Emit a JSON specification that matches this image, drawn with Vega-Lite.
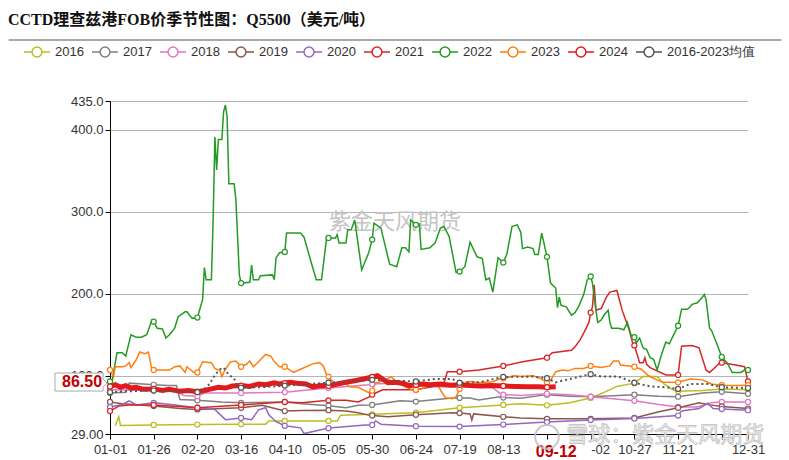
{
"$schema":"https://vega.github.io/schema/vega-lite/v6.json",
"width":638,"height":333,
"autosize":{"type":"none"},
"padding":{"left":110,"top":101,"right":41,"bottom":26},
"background":"white",
"title":{"text":"CCTD理查兹港FOB价季节性图：Q5500（美元/吨）","anchor":"start","frame":"group","font":"Liberation Serif, Noto Sans CJK SC","fontSize":16,"fontWeight":"bold","color":"#111111","dx":-102,"offset":10},
"config":{"view":{"stroke":null},"font":"Liberation Sans","axis":{"labelFont":"Liberation Sans","labelFontSize":13,"labelColor":"#333333"}},
"data":{"values":[
{"year":"2016","date":"2024-01-04","value":39},{"year":"2016","date":"2024-01-06","value":50},{"year":"2016","date":"2024-01-07","value":39.5},{"year":"2016","date":"2024-01-26","value":40},{"year":"2016","date":"2024-02-20","value":40.5},{"year":"2016","date":"2024-03-16","value":41},{"year":"2016","date":"2024-03-30","value":41},{"year":"2016","date":"2024-04-01","value":45},{"year":"2016","date":"2024-04-10","value":45},{"year":"2016","date":"2024-05-05","value":45},{"year":"2016","date":"2024-05-10","value":45},{"year":"2016","date":"2024-05-12","value":52},{"year":"2016","date":"2024-05-30","value":53},{"year":"2016","date":"2024-06-24","value":55},{"year":"2016","date":"2024-07-19","value":61},{"year":"2016","date":"2024-08-13","value":64.5},{"year":"2016","date":"2024-08-23","value":66},{"year":"2016","date":"2024-09-07","value":64},{"year":"2016","date":"2024-09-20","value":67},{"year":"2016","date":"2024-10-02","value":73},{"year":"2016","date":"2024-10-10","value":80},{"year":"2016","date":"2024-10-17","value":87},{"year":"2016","date":"2024-10-27","value":91},{"year":"2016","date":"2024-11-01","value":99},{"year":"2016","date":"2024-11-09","value":99},{"year":"2016","date":"2024-11-13","value":90},{"year":"2016","date":"2024-11-18","value":83},{"year":"2016","date":"2024-11-21","value":81},{"year":"2016","date":"2024-12-05","value":82},{"year":"2016","date":"2024-12-16","value":84},{"year":"2016","date":"2024-12-31","value":83},
{"year":"2017","date":"2024-01-01","value":79},{"year":"2017","date":"2024-01-10","value":80},{"year":"2017","date":"2024-01-12","value":91},{"year":"2017","date":"2024-01-20","value":90},{"year":"2017","date":"2024-01-26","value":89},{"year":"2017","date":"2024-02-03","value":88},{"year":"2017","date":"2024-02-08","value":88},{"year":"2017","date":"2024-02-10","value":71},{"year":"2017","date":"2024-02-20","value":70},{"year":"2017","date":"2024-03-05","value":68},{"year":"2017","date":"2024-03-16","value":67},{"year":"2017","date":"2024-04-10","value":68},{"year":"2017","date":"2024-04-20","value":66},{"year":"2017","date":"2024-05-05","value":63.5},{"year":"2017","date":"2024-05-15","value":61},{"year":"2017","date":"2024-05-22","value":64},{"year":"2017","date":"2024-05-30","value":64.5},{"year":"2017","date":"2024-06-15","value":69.5},{"year":"2017","date":"2024-06-24","value":68.5},{"year":"2017","date":"2024-07-03","value":70.5},{"year":"2017","date":"2024-07-15","value":73},{"year":"2017","date":"2024-07-19","value":73},{"year":"2017","date":"2024-07-25","value":73},{"year":"2017","date":"2024-07-30","value":70.5},{"year":"2017","date":"2024-08-11","value":74.5},{"year":"2017","date":"2024-08-13","value":73.5},{"year":"2017","date":"2024-08-23","value":72.5},{"year":"2017","date":"2024-09-07","value":77},{"year":"2017","date":"2024-09-20","value":75},{"year":"2017","date":"2024-10-02","value":74.5},{"year":"2017","date":"2024-10-27","value":77},{"year":"2017","date":"2024-11-10","value":75},{"year":"2017","date":"2024-11-21","value":74.5},{"year":"2017","date":"2024-12-05","value":79},{"year":"2017","date":"2024-12-16","value":80.5},{"year":"2017","date":"2024-12-31","value":78},
{"year":"2018","date":"2024-01-01","value":83},{"year":"2018","date":"2024-01-26","value":82},{"year":"2018","date":"2024-02-08","value":82},{"year":"2018","date":"2024-02-12","value":76},{"year":"2018","date":"2024-02-20","value":75},{"year":"2018","date":"2024-02-24","value":79},{"year":"2018","date":"2024-03-16","value":79},{"year":"2018","date":"2024-04-10","value":80},{"year":"2018","date":"2024-05-05","value":85},{"year":"2018","date":"2024-05-28","value":89},{"year":"2018","date":"2024-05-30","value":90},{"year":"2018","date":"2024-06-10","value":91},{"year":"2018","date":"2024-06-24","value":89},{"year":"2018","date":"2024-07-03","value":86.5},{"year":"2018","date":"2024-07-19","value":87},{"year":"2018","date":"2024-08-07","value":85.5},{"year":"2018","date":"2024-08-12","value":77},{"year":"2018","date":"2024-08-13","value":77},{"year":"2018","date":"2024-08-23","value":76},{"year":"2018","date":"2024-09-07","value":78},{"year":"2018","date":"2024-09-20","value":77},{"year":"2018","date":"2024-10-02","value":74.5},{"year":"2018","date":"2024-10-27","value":69.5},{"year":"2018","date":"2024-11-10","value":65},{"year":"2018","date":"2024-11-21","value":62},{"year":"2018","date":"2024-12-02","value":62},{"year":"2018","date":"2024-12-10","value":67},{"year":"2018","date":"2024-12-16","value":68},{"year":"2018","date":"2024-12-31","value":68},
{"year":"2019","date":"2024-01-01","value":68},{"year":"2019","date":"2024-01-08","value":66},{"year":"2019","date":"2024-01-18","value":64.5},{"year":"2019","date":"2024-01-26","value":63},{"year":"2019","date":"2024-02-10","value":60},{"year":"2019","date":"2024-02-20","value":59},{"year":"2019","date":"2024-03-05","value":60},{"year":"2019","date":"2024-03-16","value":61},{"year":"2019","date":"2024-03-28","value":64},{"year":"2019","date":"2024-04-01","value":62},{"year":"2019","date":"2024-04-10","value":57},{"year":"2019","date":"2024-04-20","value":57.5},{"year":"2019","date":"2024-05-05","value":58},{"year":"2019","date":"2024-05-15","value":57},{"year":"2019","date":"2024-05-22","value":55},{"year":"2019","date":"2024-05-28","value":52},{"year":"2019","date":"2024-05-30","value":51.5},{"year":"2019","date":"2024-06-08","value":50},{"year":"2019","date":"2024-06-24","value":52.5},{"year":"2019","date":"2024-07-15","value":55},{"year":"2019","date":"2024-07-19","value":54.5},{"year":"2019","date":"2024-07-25","value":53.5},{"year":"2019","date":"2024-07-26","value":46},{"year":"2019","date":"2024-07-27","value":53.5},{"year":"2019","date":"2024-08-13","value":50},{"year":"2019","date":"2024-08-23","value":48.5},{"year":"2019","date":"2024-09-07","value":47.5},{"year":"2019","date":"2024-10-02","value":47.5},{"year":"2019","date":"2024-10-27","value":48.5},{"year":"2019","date":"2024-11-10","value":56},{"year":"2019","date":"2024-11-21","value":61},{"year":"2019","date":"2024-12-03","value":67},{"year":"2019","date":"2024-12-09","value":64.5},{"year":"2019","date":"2024-12-16","value":62.5},{"year":"2019","date":"2024-12-31","value":60},
{"year":"2020","date":"2024-01-01","value":62},{"year":"2020","date":"2024-01-08","value":65},{"year":"2020","date":"2024-01-12","value":69.5},{"year":"2020","date":"2024-01-16","value":64.5},{"year":"2020","date":"2024-01-26","value":67},{"year":"2020","date":"2024-02-05","value":65},{"year":"2020","date":"2024-02-20","value":61},{"year":"2020","date":"2024-03-01","value":59},{"year":"2020","date":"2024-03-07","value":46.5},{"year":"2020","date":"2024-03-16","value":48.5},{"year":"2020","date":"2024-03-22","value":46.5},{"year":"2020","date":"2024-03-26","value":58.5},{"year":"2020","date":"2024-03-30","value":61},{"year":"2020","date":"2024-04-01","value":52},{"year":"2020","date":"2024-04-05","value":44},{"year":"2020","date":"2024-04-10","value":39},{"year":"2020","date":"2024-04-19","value":36.5},{"year":"2020","date":"2024-04-21","value":29.5},{"year":"2020","date":"2024-04-30","value":34},{"year":"2020","date":"2024-05-05","value":36},{"year":"2020","date":"2024-05-07","value":36.5},{"year":"2020","date":"2024-05-26","value":40},{"year":"2020","date":"2024-05-30","value":40},{"year":"2020","date":"2024-06-01","value":45},{"year":"2020","date":"2024-06-04","value":41},{"year":"2020","date":"2024-06-24","value":38.5},{"year":"2020","date":"2024-07-19","value":38},{"year":"2020","date":"2024-08-13","value":40.5},{"year":"2020","date":"2024-09-07","value":43.5},{"year":"2020","date":"2024-10-02","value":46},{"year":"2020","date":"2024-10-27","value":48},{"year":"2020","date":"2024-11-21","value":51.5},{"year":"2020","date":"2024-11-23","value":57},{"year":"2020","date":"2024-12-03","value":60},{"year":"2020","date":"2024-12-08","value":66.5},{"year":"2020","date":"2024-12-11","value":60},{"year":"2020","date":"2024-12-16","value":59.5},{"year":"2020","date":"2024-12-31","value":58},
{"year":"2021","date":"2024-01-01","value":57},{"year":"2021","date":"2024-01-06","value":63},{"year":"2021","date":"2024-01-12","value":64.5},{"year":"2021","date":"2024-01-26","value":64.5},{"year":"2021","date":"2024-02-20","value":61},{"year":"2021","date":"2024-03-16","value":64.5},{"year":"2021","date":"2024-04-10","value":68},{"year":"2021","date":"2024-04-20","value":67},{"year":"2021","date":"2024-05-05","value":70},{"year":"2021","date":"2024-05-15","value":70},{"year":"2021","date":"2024-05-22","value":68},{"year":"2021","date":"2024-05-28","value":74},{"year":"2021","date":"2024-05-30","value":77},{"year":"2021","date":"2024-06-01","value":79},{"year":"2021","date":"2024-06-05","value":83},{"year":"2021","date":"2024-06-24","value":83},{"year":"2021","date":"2024-07-03","value":86.6},{"year":"2021","date":"2024-07-10","value":91},{"year":"2021","date":"2024-07-12","value":105},{"year":"2021","date":"2024-07-19","value":105},{"year":"2021","date":"2024-07-30","value":107},{"year":"2021","date":"2024-08-13","value":112},{"year":"2021","date":"2024-08-24","value":117},{"year":"2021","date":"2024-09-07","value":122},{"year":"2021","date":"2024-09-10","value":128},{"year":"2021","date":"2024-09-21","value":131},{"year":"2021","date":"2024-09-23","value":135},{"year":"2021","date":"2024-09-26","value":144},{"year":"2021","date":"2024-09-28","value":152},{"year":"2021","date":"2024-10-01","value":165},{"year":"2021","date":"2024-10-02","value":177},{"year":"2021","date":"2024-10-03","value":184},{"year":"2021","date":"2024-10-04","value":211},{"year":"2021","date":"2024-10-05","value":180},{"year":"2021","date":"2024-10-08","value":182},{"year":"2021","date":"2024-10-11","value":196},{"year":"2021","date":"2024-10-13","value":202},{"year":"2021","date":"2024-10-17","value":204},{"year":"2021","date":"2024-10-18","value":196},{"year":"2021","date":"2024-10-20","value":180},{"year":"2021","date":"2024-10-24","value":156},{"year":"2021","date":"2024-10-26","value":140},{"year":"2021","date":"2024-10-27","value":137},{"year":"2021","date":"2024-10-30","value":116},{"year":"2021","date":"2024-11-01","value":116},{"year":"2021","date":"2024-11-02","value":122},{"year":"2021","date":"2024-11-03","value":114},{"year":"2021","date":"2024-11-05","value":110},{"year":"2021","date":"2024-11-14","value":101},{"year":"2021","date":"2024-11-21","value":101},{"year":"2021","date":"2024-11-23","value":136},{"year":"2021","date":"2024-11-29","value":137},{"year":"2021","date":"2024-12-03","value":134},{"year":"2021","date":"2024-12-07","value":107},{"year":"2021","date":"2024-12-09","value":104},{"year":"2021","date":"2024-12-15","value":116},{"year":"2021","date":"2024-12-16","value":116},{"year":"2021","date":"2024-12-24","value":113},{"year":"2021","date":"2024-12-29","value":111},{"year":"2021","date":"2024-12-31","value":93},
{"year":"2022","date":"2024-01-01","value":93},{"year":"2022","date":"2024-01-02","value":90},{"year":"2022","date":"2024-01-04","value":116},{"year":"2022","date":"2024-01-05","value":128},{"year":"2022","date":"2024-01-08","value":128},{"year":"2022","date":"2024-01-10","value":124},{"year":"2022","date":"2024-01-13","value":150},{"year":"2022","date":"2024-01-16","value":147},{"year":"2022","date":"2024-01-19","value":147},{"year":"2022","date":"2024-01-22","value":150},{"year":"2022","date":"2024-01-25","value":168},{"year":"2022","date":"2024-01-26","value":166},{"year":"2022","date":"2024-01-28","value":158},{"year":"2022","date":"2024-01-31","value":157},{"year":"2022","date":"2024-02-02","value":146},{"year":"2022","date":"2024-02-04","value":150},{"year":"2022","date":"2024-02-07","value":158},{"year":"2022","date":"2024-02-09","value":172},{"year":"2022","date":"2024-02-13","value":178},{"year":"2022","date":"2024-02-14","value":178},{"year":"2022","date":"2024-02-17","value":170},{"year":"2022","date":"2024-02-20","value":171},{"year":"2022","date":"2024-02-23","value":193},{"year":"2022","date":"2024-02-24","value":232},{"year":"2022","date":"2024-02-25","value":217},{"year":"2022","date":"2024-02-28","value":217},{"year":"2022","date":"2024-02-29","value":290},{"year":"2022","date":"2024-03-01","value":391},{"year":"2022","date":"2024-03-02","value":351},{"year":"2022","date":"2024-03-03","value":388},{"year":"2022","date":"2024-03-05","value":388},{"year":"2022","date":"2024-03-06","value":422},{"year":"2022","date":"2024-03-07","value":430},{"year":"2022","date":"2024-03-08","value":416},{"year":"2022","date":"2024-03-09","value":334},{"year":"2022","date":"2024-03-12","value":334},{"year":"2022","date":"2024-03-13","value":315},{"year":"2022","date":"2024-03-15","value":223},{"year":"2022","date":"2024-03-16","value":213},{"year":"2022","date":"2024-03-21","value":214},{"year":"2022","date":"2024-03-22","value":235},{"year":"2022","date":"2024-03-23","value":217},{"year":"2022","date":"2024-03-26","value":217},{"year":"2022","date":"2024-03-27","value":222},{"year":"2022","date":"2024-04-03","value":223},{"year":"2022","date":"2024-04-04","value":217},{"year":"2022","date":"2024-04-05","value":244},{"year":"2022","date":"2024-04-07","value":250},{"year":"2022","date":"2024-04-10","value":251},{"year":"2022","date":"2024-04-11","value":274},{"year":"2022","date":"2024-04-19","value":274},{"year":"2022","date":"2024-04-21","value":269},{"year":"2022","date":"2024-04-25","value":239},{"year":"2022","date":"2024-04-28","value":217},{"year":"2022","date":"2024-05-01","value":217},{"year":"2022","date":"2024-05-04","value":269},{"year":"2022","date":"2024-05-05","value":268},{"year":"2022","date":"2024-05-09","value":268},{"year":"2022","date":"2024-05-10","value":272},{"year":"2022","date":"2024-05-11","value":262},{"year":"2022","date":"2024-05-15","value":262},{"year":"2022","date":"2024-05-16","value":278},{"year":"2022","date":"2024-05-18","value":278},{"year":"2022","date":"2024-05-20","value":290},{"year":"2022","date":"2024-05-24","value":229},{"year":"2022","date":"2024-05-28","value":250},{"year":"2022","date":"2024-05-30","value":266},{"year":"2022","date":"2024-05-31","value":286},{"year":"2022","date":"2024-06-04","value":280},{"year":"2022","date":"2024-06-09","value":236},{"year":"2022","date":"2024-06-13","value":233},{"year":"2022","date":"2024-06-16","value":256},{"year":"2022","date":"2024-06-18","value":256},{"year":"2022","date":"2024-06-20","value":251},{"year":"2022","date":"2024-06-21","value":290},{"year":"2022","date":"2024-06-24","value":284},{"year":"2022","date":"2024-06-26","value":285},{"year":"2022","date":"2024-06-27","value":254},{"year":"2022","date":"2024-07-02","value":256},{"year":"2022","date":"2024-07-05","value":262},{"year":"2022","date":"2024-07-08","value":280},{"year":"2022","date":"2024-07-10","value":282},{"year":"2022","date":"2024-07-13","value":270},{"year":"2022","date":"2024-07-17","value":226},{"year":"2022","date":"2024-07-19","value":227},{"year":"2022","date":"2024-07-22","value":233},{"year":"2022","date":"2024-07-25","value":263},{"year":"2022","date":"2024-07-29","value":245},{"year":"2022","date":"2024-08-01","value":243},{"year":"2022","date":"2024-08-03","value":217},{"year":"2022","date":"2024-08-05","value":219},{"year":"2022","date":"2024-08-07","value":202},{"year":"2022","date":"2024-08-10","value":244},{"year":"2022","date":"2024-08-13","value":238},{"year":"2022","date":"2024-08-15","value":248},{"year":"2022","date":"2024-08-18","value":282},{"year":"2022","date":"2024-08-21","value":284},{"year":"2022","date":"2024-08-23","value":275},{"year":"2022","date":"2024-08-24","value":255},{"year":"2022","date":"2024-08-27","value":257},{"year":"2022","date":"2024-08-30","value":255},{"year":"2022","date":"2024-08-31","value":248},{"year":"2022","date":"2024-09-02","value":248},{"year":"2022","date":"2024-09-04","value":274},{"year":"2022","date":"2024-09-07","value":245},{"year":"2022","date":"2024-09-08","value":229},{"year":"2022","date":"2024-09-09","value":213},{"year":"2022","date":"2024-09-12","value":207},{"year":"2022","date":"2024-09-13","value":183},{"year":"2022","date":"2024-09-14","value":196},{"year":"2022","date":"2024-09-15","value":186},{"year":"2022","date":"2024-09-18","value":184},{"year":"2022","date":"2024-09-21","value":174},{"year":"2022","date":"2024-09-23","value":177},{"year":"2022","date":"2024-09-25","value":184},{"year":"2022","date":"2024-09-28","value":199},{"year":"2022","date":"2024-09-30","value":217},{"year":"2022","date":"2024-10-02","value":221},{"year":"2022","date":"2024-10-03","value":213},{"year":"2022","date":"2024-10-05","value":180},{"year":"2022","date":"2024-10-06","value":165},{"year":"2022","date":"2024-10-08","value":168},{"year":"2022","date":"2024-10-10","value":175},{"year":"2022","date":"2024-10-12","value":180},{"year":"2022","date":"2024-10-13","value":165},{"year":"2022","date":"2024-10-14","value":158},{"year":"2022","date":"2024-10-18","value":158},{"year":"2022","date":"2024-10-21","value":156},{"year":"2022","date":"2024-10-23","value":165},{"year":"2022","date":"2024-10-25","value":150},{"year":"2022","date":"2024-10-27","value":147},{"year":"2022","date":"2024-10-28","value":140},{"year":"2022","date":"2024-10-30","value":146},{"year":"2022","date":"2024-11-01","value":134},{"year":"2022","date":"2024-11-03","value":132},{"year":"2022","date":"2024-11-05","value":122},{"year":"2022","date":"2024-11-07","value":120},{"year":"2022","date":"2024-11-09","value":107},{"year":"2022","date":"2024-11-11","value":122},{"year":"2022","date":"2024-11-12","value":129},{"year":"2022","date":"2024-11-14","value":141},{"year":"2022","date":"2024-11-16","value":139},{"year":"2022","date":"2024-11-18","value":148},{"year":"2022","date":"2024-11-21","value":161},{"year":"2022","date":"2024-11-23","value":181},{"year":"2022","date":"2024-11-26","value":181},{"year":"2022","date":"2024-11-27","value":182},{"year":"2022","date":"2024-11-29","value":187},{"year":"2022","date":"2024-12-02","value":189},{"year":"2022","date":"2024-12-05","value":196},{"year":"2022","date":"2024-12-06","value":199},{"year":"2022","date":"2024-12-07","value":193},{"year":"2022","date":"2024-12-09","value":158},{"year":"2022","date":"2024-12-10","value":156},{"year":"2022","date":"2024-12-13","value":140},{"year":"2022","date":"2024-12-16","value":123},{"year":"2022","date":"2024-12-19","value":116},{"year":"2022","date":"2024-12-22","value":104},{"year":"2022","date":"2024-12-27","value":104},{"year":"2022","date":"2024-12-29","value":107},{"year":"2022","date":"2024-12-31","value":107},
{"year":"2023","date":"2024-01-01","value":107},{"year":"2023","date":"2024-01-03","value":99},{"year":"2023","date":"2024-01-04","value":111},{"year":"2023","date":"2024-01-08","value":111},{"year":"2023","date":"2024-01-10","value":112},{"year":"2023","date":"2024-01-12","value":116},{"year":"2023","date":"2024-01-13","value":110},{"year":"2023","date":"2024-01-16","value":119.5},{"year":"2023","date":"2024-01-18","value":129},{"year":"2023","date":"2024-01-21","value":127},{"year":"2023","date":"2024-01-23","value":129},{"year":"2023","date":"2024-01-25","value":107},{"year":"2023","date":"2024-01-26","value":107},{"year":"2023","date":"2024-01-31","value":107},{"year":"2023","date":"2024-02-04","value":107},{"year":"2023","date":"2024-02-07","value":111},{"year":"2023","date":"2024-02-10","value":112},{"year":"2023","date":"2024-02-13","value":104},{"year":"2023","date":"2024-02-14","value":111},{"year":"2023","date":"2024-02-18","value":104},{"year":"2023","date":"2024-02-20","value":104},{"year":"2023","date":"2024-02-23","value":117},{"year":"2023","date":"2024-02-28","value":116},{"year":"2023","date":"2024-03-01","value":109},{"year":"2023","date":"2024-03-04","value":106},{"year":"2023","date":"2024-03-05","value":99},{"year":"2023","date":"2024-03-07","value":108},{"year":"2023","date":"2024-03-10","value":117},{"year":"2023","date":"2024-03-13","value":118},{"year":"2023","date":"2024-03-16","value":111},{"year":"2023","date":"2024-03-19","value":114},{"year":"2023","date":"2024-03-21","value":118},{"year":"2023","date":"2024-03-23","value":111},{"year":"2023","date":"2024-03-25","value":115},{"year":"2023","date":"2024-03-30","value":126},{"year":"2023","date":"2024-04-02","value":124},{"year":"2023","date":"2024-04-04","value":117},{"year":"2023","date":"2024-04-07","value":111},{"year":"2023","date":"2024-04-10","value":111},{"year":"2023","date":"2024-04-15","value":104},{"year":"2023","date":"2024-04-19","value":108},{"year":"2023","date":"2024-04-26","value":114.5},{"year":"2023","date":"2024-04-30","value":116},{"year":"2023","date":"2024-05-02","value":112},{"year":"2023","date":"2024-05-04","value":101},{"year":"2023","date":"2024-05-05","value":99},{"year":"2023","date":"2024-05-08","value":91.5},{"year":"2023","date":"2024-05-14","value":91.5},{"year":"2023","date":"2024-05-17","value":86.5},{"year":"2023","date":"2024-05-22","value":86},{"year":"2023","date":"2024-05-28","value":79.5},{"year":"2023","date":"2024-05-30","value":82},{"year":"2023","date":"2024-06-01","value":91.5},{"year":"2023","date":"2024-06-03","value":92},{"year":"2023","date":"2024-06-10","value":98.8},{"year":"2023","date":"2024-06-13","value":91.5},{"year":"2023","date":"2024-06-18","value":86.5},{"year":"2023","date":"2024-06-22","value":83},{"year":"2023","date":"2024-06-24","value":83},{"year":"2023","date":"2024-06-27","value":84},{"year":"2023","date":"2024-07-03","value":89},{"year":"2023","date":"2024-07-07","value":86.6},{"year":"2023","date":"2024-07-09","value":79.3},{"year":"2023","date":"2024-07-11","value":73.2},{"year":"2023","date":"2024-07-15","value":72},{"year":"2023","date":"2024-07-17","value":74.4},{"year":"2023","date":"2024-07-19","value":84},{"year":"2023","date":"2024-07-23","value":92.7},{"year":"2023","date":"2024-07-26","value":93},{"year":"2023","date":"2024-07-30","value":91.5},{"year":"2023","date":"2024-08-07","value":92.7},{"year":"2023","date":"2024-08-11","value":96.3},{"year":"2023","date":"2024-08-13","value":97},{"year":"2023","date":"2024-08-15","value":97.6},{"year":"2023","date":"2024-08-19","value":100},{"year":"2023","date":"2024-08-23","value":99},{"year":"2023","date":"2024-08-30","value":100},{"year":"2023","date":"2024-09-03","value":97},{"year":"2023","date":"2024-09-07","value":91.5},{"year":"2023","date":"2024-09-09","value":94},{"year":"2023","date":"2024-09-12","value":105},{"year":"2023","date":"2024-09-16","value":107},{"year":"2023","date":"2024-09-19","value":106},{"year":"2023","date":"2024-09-23","value":109},{"year":"2023","date":"2024-09-28","value":109},{"year":"2023","date":"2024-10-02","value":112},{"year":"2023","date":"2024-10-08","value":110},{"year":"2023","date":"2024-10-13","value":112},{"year":"2023","date":"2024-10-15","value":118},{"year":"2023","date":"2024-10-18","value":118},{"year":"2023","date":"2024-10-19","value":113},{"year":"2023","date":"2024-10-24","value":112},{"year":"2023","date":"2024-10-27","value":111},{"year":"2023","date":"2024-10-31","value":108},{"year":"2023","date":"2024-11-04","value":100},{"year":"2023","date":"2024-11-09","value":95},{"year":"2023","date":"2024-11-12","value":92},{"year":"2023","date":"2024-11-21","value":92},{"year":"2023","date":"2024-11-28","value":96},{"year":"2023","date":"2024-12-05","value":95},{"year":"2023","date":"2024-12-10","value":90},{"year":"2023","date":"2024-12-16","value":88.5},{"year":"2023","date":"2024-12-25","value":88},{"year":"2023","date":"2024-12-31","value":88.5},
{"year":"2024","date":"2024-01-01","value":87},{"year":"2024","date":"2024-01-04","value":89},{"year":"2024","date":"2024-01-07","value":86},{"year":"2024","date":"2024-01-10","value":88},{"year":"2024","date":"2024-01-13","value":85},{"year":"2024","date":"2024-01-16","value":86},{"year":"2024","date":"2024-01-20","value":83.5},{"year":"2024","date":"2024-01-26","value":84},{"year":"2024","date":"2024-01-31","value":82},{"year":"2024","date":"2024-02-04","value":83.5},{"year":"2024","date":"2024-02-10","value":81},{"year":"2024","date":"2024-02-15","value":82},{"year":"2024","date":"2024-02-20","value":80.5},{"year":"2024","date":"2024-02-24","value":82},{"year":"2024","date":"2024-02-28","value":84},{"year":"2024","date":"2024-03-03","value":86},{"year":"2024","date":"2024-03-07","value":85},{"year":"2024","date":"2024-03-11","value":87.5},{"year":"2024","date":"2024-03-16","value":88},{"year":"2024","date":"2024-03-21","value":87},{"year":"2024","date":"2024-03-26","value":90},{"year":"2024","date":"2024-03-30","value":89},{"year":"2024","date":"2024-04-04","value":91.5},{"year":"2024","date":"2024-04-07","value":90},{"year":"2024","date":"2024-04-10","value":91},{"year":"2024","date":"2024-04-13","value":92},{"year":"2024","date":"2024-04-17","value":91},{"year":"2024","date":"2024-04-22","value":90},{"year":"2024","date":"2024-04-26","value":86.5},{"year":"2024","date":"2024-05-01","value":88},{"year":"2024","date":"2024-05-05","value":87.5},{"year":"2024","date":"2024-05-10","value":90},{"year":"2024","date":"2024-05-15","value":92},{"year":"2024","date":"2024-05-20","value":94},{"year":"2024","date":"2024-05-25","value":96},{"year":"2024","date":"2024-05-30","value":98.5},{"year":"2024","date":"2024-06-02","value":100},{"year":"2024","date":"2024-06-05","value":96},{"year":"2024","date":"2024-06-08","value":91.5},{"year":"2024","date":"2024-06-12","value":92},{"year":"2024","date":"2024-06-17","value":90.5},{"year":"2024","date":"2024-06-20","value":88},{"year":"2024","date":"2024-06-24","value":89},{"year":"2024","date":"2024-06-28","value":90},{"year":"2024","date":"2024-07-02","value":89},{"year":"2024","date":"2024-07-08","value":90},{"year":"2024","date":"2024-07-14","value":88.5},{"year":"2024","date":"2024-07-19","value":89},{"year":"2024","date":"2024-07-25","value":88},{"year":"2024","date":"2024-07-31","value":87.5},{"year":"2024","date":"2024-08-06","value":88},{"year":"2024","date":"2024-08-13","value":87.5},{"year":"2024","date":"2024-08-20","value":87},{"year":"2024","date":"2024-08-27","value":86.5},{"year":"2024","date":"2024-09-02","value":86.5},{"year":"2024","date":"2024-09-07","value":86},{"year":"2024","date":"2024-09-12","value":86.5},
{"year":"2016-2023均值","date":"2024-01-01","value":80},{"year":"2016-2023均值","date":"2024-01-10","value":81},{"year":"2016-2023均值","date":"2024-01-26","value":82},{"year":"2016-2023均值","date":"2024-02-10","value":81},{"year":"2016-2023均值","date":"2024-02-20","value":80},{"year":"2016-2023均值","date":"2024-02-24","value":84},{"year":"2016-2023均值","date":"2024-02-27","value":90},{"year":"2016-2023均值","date":"2024-03-01","value":101},{"year":"2016-2023均值","date":"2024-03-04","value":108},{"year":"2016-2023均值","date":"2024-03-06","value":110},{"year":"2016-2023均值","date":"2024-03-09","value":101},{"year":"2016-2023均值","date":"2024-03-12","value":97},{"year":"2016-2023均值","date":"2024-03-14","value":86},{"year":"2016-2023均值","date":"2024-03-16","value":85.5},{"year":"2016-2023均值","date":"2024-03-27","value":86},{"year":"2016-2023均值","date":"2024-04-10","value":88},{"year":"2016-2023均值","date":"2024-05-05","value":91.5},{"year":"2016-2023均值","date":"2024-05-30","value":95},{"year":"2016-2023均值","date":"2024-06-24","value":93},{"year":"2016-2023均值","date":"2024-07-05","value":96},{"year":"2016-2023均值","date":"2024-07-15","value":96},{"year":"2016-2023均值","date":"2024-07-19","value":91.5},{"year":"2016-2023均值","date":"2024-07-30","value":92},{"year":"2016-2023均值","date":"2024-08-13","value":98.5},{"year":"2016-2023均值","date":"2024-08-30","value":99},{"year":"2016-2023均值","date":"2024-09-07","value":97},{"year":"2016-2023均值","date":"2024-09-12","value":92},{"year":"2016-2023均值","date":"2024-09-22","value":97},{"year":"2016-2023均值","date":"2024-10-02","value":102},{"year":"2016-2023均值","date":"2024-10-08","value":99},{"year":"2016-2023均值","date":"2024-10-18","value":99},{"year":"2016-2023均值","date":"2024-10-27","value":91.5},{"year":"2016-2023均值","date":"2024-11-05","value":87},{"year":"2016-2023均值","date":"2024-11-14","value":86},{"year":"2016-2023均值","date":"2024-11-21","value":84},{"year":"2016-2023均值","date":"2024-11-28","value":90},{"year":"2016-2023均值","date":"2024-12-08","value":90},{"year":"2016-2023均值","date":"2024-12-16","value":86},{"year":"2016-2023均值","date":"2024-12-31","value":85}
]},
"encoding":{
"x":{"field":"date","type":"temporal","scale":{"type":"utc","domain":[{"year":2024,"month":1,"date":1,"utc":true},{"year":2024,"month":12,"date":31,"utc":true}]},
"axis":{"title":null,"grid":false,"domainColor":"#000000","tickColor":{"condition":{"test":"utcFormat(datum.value,'%m-%d')=='09-12'","value":"transparent"},"value":"#000000"},"tickSize":5,"labelPadding":4,"labelOverlap":false,"labelFlush":false,
"values":[{"year":2024,"month":1,"date":1,"utc":true},{"year":2024,"month":1,"date":26,"utc":true},{"year":2024,"month":2,"date":20,"utc":true},{"year":2024,"month":3,"date":16,"utc":true},{"year":2024,"month":4,"date":10,"utc":true},{"year":2024,"month":5,"date":5,"utc":true},{"year":2024,"month":5,"date":30,"utc":true},{"year":2024,"month":6,"date":24,"utc":true},{"year":2024,"month":7,"date":19,"utc":true},{"year":2024,"month":8,"date":13,"utc":true},{"year":2024,"month":9,"date":7,"utc":true},{"year":2024,"month":9,"date":12,"utc":true},{"year":2024,"month":10,"date":2,"utc":true},{"year":2024,"month":10,"date":27,"utc":true},{"year":2024,"month":11,"date":21,"utc":true},{"year":2024,"month":12,"date":16,"utc":true},{"year":2024,"month":12,"date":31,"utc":true}],
"labelExpr":"(utcFormat(datum.value,'%m-%d')=='09-07'||utcFormat(datum.value,'%m-%d')=='12-16') ? '' : (utcFormat(datum.value,'%m-%d')=='10-02' ? '-02' : utcFormat(datum.value,'%m-%d'))",
"labelAlign":{"condition":{"test":"utcFormat(datum.value,'%m-%d')=='10-02'","value":"left"},"value":"center"},
"labelColor":{"condition":{"test":"utcFormat(datum.value,'%m-%d')=='09-12'","value":"#c00000"},"value":"#333333"},
"labelFontSize":{"condition":{"test":"utcFormat(datum.value,'%m-%d')=='09-12'","value":16},"value":13},
"labelFontWeight":{"condition":{"test":"utcFormat(datum.value,'%m-%d')=='09-12'","value":"bold"},"value":"normal"}}},
"y":{"field":"value","type":"quantitative","scale":{"domain":[29,435],"nice":false,"zero":false},
"axis":{"title":null,"values":[29,100,200,300,400,435],"labelExpr":"datum.value==29 ? '29.00' : format(datum.value,'.1f')","grid":true,"gridColor":"#b4b4b4","domainColor":"#000000","tickColor":"#000000","tickSize":5,"labelPadding":2}}
},
"layer":[
{"data":{"values":[{"label":"紫金天风期货","date":"2024-06-12","value":288}]},"mark":{"type":"text","font":"Noto Sans CJK SC","fontSize":22,"color":"#c4c4c4","align":"center","baseline":"middle"},"encoding":{"text":{"field":"label"}}},
{"data":{"values":[{"date":"2023-11-04","date2":"2025-01-19","value":509.4}]},"mark":{"type":"rule","color":"#8c8c8c","strokeWidth":1.5},"encoding":{"x2":{"field":"date2"}}},
{"transform":[{"filter":"datum.year!='2024' && datum.year!='2016-2023均值'"}],"mark":{"type":"line","strokeWidth":1.5},
"encoding":{"color":{"field":"year","type":"nominal","scale":{"domain":["2016","2017","2018","2019","2020","2021","2022","2023","2024","2016-2023均值"],"range":["#bcbd22","#808080","#e377c2","#8c564b","#9467bd","#d62728","#239b23","#ff7f0e","#e31a1c","#555555"]},
"legend":{"orient":"none","legendX":-87,"legendY":-63,"direction":"horizontal","columns":10,"columnPadding":5,"title":null,"padding":0,"symbolType":"M-1,0L-0.38,0M0.38,0L1,0M0.38,0A0.38,0.38,0,1,1,-0.38,0A0.38,0.38,0,1,1,0.38,0","symbolSize":676,"symbolStrokeWidth":1.5,"symbolFillColor":"#ffffff","labelFont":"Liberation Sans","labelFontSize":13,"labelColor":"#333333","labelOffset":4,"labelLimit":200}}}},
{"transform":[{"filter":"datum.year=='2024'"}],"mark":{"type":"line","strokeWidth":5},"encoding":{"color":{"field":"year","type":"nominal"}}},
{"transform":[{"filter":"datum.year=='2016-2023均值'"}],"mark":{"type":"line","strokeWidth":2,"strokeDash":[2,3],"color":"#333333"},"encoding":{"color":{"field":"year","type":"nominal"}}},
{"transform":[{"filter":"indexof(['01-01','01-26','02-20','03-16','04-10','05-05','05-30','06-24','07-19','08-13','09-07','10-02','10-27','11-21','12-16','12-31'], utcFormat(datum.date,'%m-%d')) >= 0"}],"mark":{"type":"point","filled":false,"fill":"#ffffff","fillOpacity":1,"opacity":1,"size":26,"strokeWidth":1.2},"encoding":{"color":{"field":"year","type":"nominal"}}},
{"data":{"values":[{"label":"86.50","date":"2024-01-01","value":86.5}]},"mark":{"type":"point","shape":"M-0.3,-0.38L-0.7,-0.78L-0.7,-1.38L-5.5,-1.38L-5.5,0.42L-0.7,0.42L-0.7,0.02Z","size":400,"filled":true,"fill":"#ffffff","fillOpacity":1,"stroke":"#aaaaaa","strokeWidth":1,"opacity":1}},
{"data":{"values":[{"label":"86.50","date":"2024-01-01","value":86.5}]},"mark":{"type":"text","font":"Liberation Sans","fontSize":16,"fontWeight":"bold","color":"#c00000","dx":-28,"dy":-5,"align":"center","baseline":"middle"},"encoding":{"text":{"field":"label"}}},
{"data":{"values":[{"date":"2024-09-07","value":25.5}]},"mark":{"type":"point","shape":"circle","size":560,"filled":false,"stroke":"#c4c4c4","strokeWidth":2,"opacity":0.9}},
{"data":{"values":[{"label":"雪球：紫金天风期货","date":"2024-09-18","value":27.5}]},"mark":{"type":"text","font":"Noto Sans CJK SC","fontSize":22,"fill":"#eeeeee","stroke":"#b8b8b8","strokeWidth":0.7,"align":"left","baseline":"middle","opacity":0.9},"encoding":{"text":{"field":"label"}}}
]
}
